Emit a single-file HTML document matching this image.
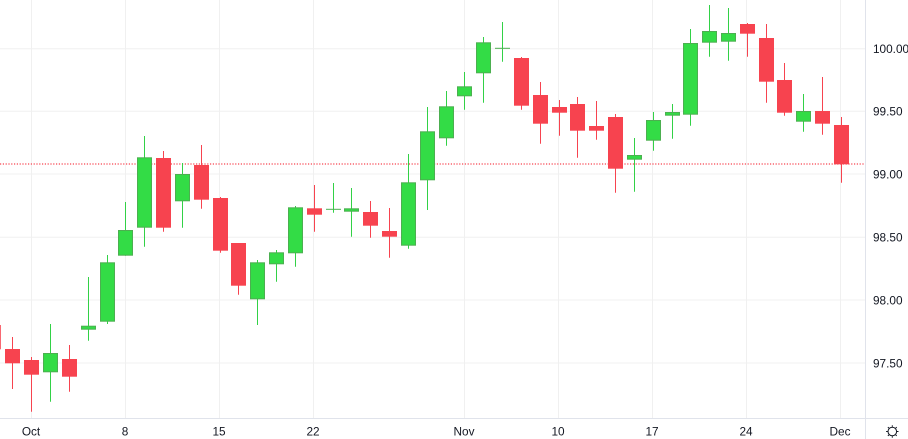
<!DOCTYPE html>
<html><head><meta charset="utf-8"><style>
html,body{margin:0;padding:0;background:#fff;}
svg{display:block;}
text{font-family:"Liberation Sans",sans-serif;fill:#131722;}
</style></head><body>
<svg width="908" height="439" viewBox="0 0 908 439" xmlns="http://www.w3.org/2000/svg">
<rect width="908" height="439" fill="#fff"/>
<g stroke="#f0f0f0" stroke-width="1">
<line x1="0" y1="48.8" x2="865" y2="48.8"/>
<line x1="0" y1="111.3" x2="865" y2="111.3"/>
<line x1="0" y1="174" x2="865" y2="174"/>
<line x1="0" y1="237.3" x2="865" y2="237.3"/>
<line x1="0" y1="300" x2="865" y2="300"/>
<line x1="0" y1="363" x2="865" y2="363"/>
<line x1="31.5" y1="0" x2="31.5" y2="418"/>
<line x1="125.5" y1="0" x2="125.5" y2="418"/>
<line x1="219.5" y1="0" x2="219.5" y2="418"/>
<line x1="313.5" y1="0" x2="313.5" y2="418"/>
<line x1="464.5" y1="0" x2="464.5" y2="418"/>
<line x1="558.5" y1="0" x2="558.5" y2="418"/>
<line x1="652.5" y1="0" x2="652.5" y2="418"/>
<line x1="746.5" y1="0" x2="746.5" y2="418"/>
<line x1="840.5" y1="0" x2="840.5" y2="418"/>
</g>
<line x1="0" y1="164" x2="865" y2="164" stroke="#f7434f" stroke-width="1.2" stroke-dasharray="1.2 1.6"/>
<g id="candles"></g>
<line x1="0" y1="418.5" x2="908" y2="418.5" stroke="#e0e3eb" stroke-width="1"/>
<line x1="865.5" y1="0" x2="865.5" y2="439" stroke="#e0e3eb" stroke-width="1"/>
<g font-size="11.8">
<text x="873" y="53">100.00</text>
<text x="873" y="115.5">99.50</text>
<text x="873" y="178.3">99.00</text>
<text x="873" y="241.6">98.50</text>
<text x="873" y="304.3">98.00</text>
<text x="873" y="367.3">97.50</text>
</g>
<g font-size="11.8" text-anchor="middle">
<text x="31" y="435.5">Oct</text>
<text x="125" y="435.5">8</text>
<text x="219" y="435.5">15</text>
<text x="313" y="435.5">22</text>
<text x="464" y="435.5">Nov</text>
<text x="558" y="435.5">10</text>
<text x="652" y="435.5">17</text>
<text x="746" y="435.5">24</text>
<text x="840" y="435.5">Dec</text>
</g>
<g stroke="#131722" stroke-width="1" fill="none">
<circle cx="892.3" cy="431.5" r="4.3"/>
<line x1="892.3" y1="425.3" x2="892.3" y2="426.8"/>
<line x1="892.3" y1="436.2" x2="892.3" y2="437.7"/>
<line x1="886.1" y1="431.5" x2="887.6" y2="431.5"/>
<line x1="897" y1="431.5" x2="898.5" y2="431.5"/>
<line x1="887.9" y1="427.1" x2="888.9" y2="428.1"/>
<line x1="895.7" y1="434.9" x2="896.7" y2="435.9"/>
<line x1="896.7" y1="427.1" x2="895.7" y2="428.1"/>
<line x1="888.9" y1="434.9" x2="887.9" y2="435.9"/>
</g>
<g>
<!-- candles -->
<rect x="-13.2" y="325" width="14" height="24.3" fill="#f7434f"/>
<line x1="-6.2" y1="318" x2="-6.2" y2="355" stroke="#f7434f"/>
</g>
<g id="c"></g>
<script>
var d=[
[-1,'r',349,363.3,337,389],
[0,'r',360,374.7,357,411.7],
[1,'g',353,372.3,324,401.7],
[2,'r',359,376.7,345,391.7],
[3,'g',325.7,329.7,277,340.7],
[4,'g',262.3,321.7,255,324],
[5,'g',230,255.7,202,255.7],
[6,'g',157.3,227.7,136,246.7],
[7,'r',158,227.7,151,231.7],
[8,'g',174,201.3,163,227.7],
[9,'r',165,199.7,145,208.7],
[10,'r',198,250.7,197,252.7],
[11,'r',243,285.7,243,294.7],
[12,'g',262.3,299.3,260,325],
[13,'g',252.3,264.3,250,281.7],
[14,'g',207.3,253.3,206,266.7],
[15,'r',208.3,214.7,185,231.7],
[16,'d',209.3,209.3,183,212.7],
[17,'g',208.3,211.7,188,236.7],
[18,'r',212,225.7,201,237.7],
[19,'r',231,236.7,208,257.7],
[20,'g',182.3,245.7,154,248.7],
[21,'g',131.3,180.3,107,210],
[22,'g',106.3,138.3,91,145.7],
[23,'g',86.3,96.3,72,109.7],
[24,'g',42.3,73.3,37,102.7],
[25,'d',48.3,48.3,22,61.7],
[26,'r',58,105.7,57,109.7],
[27,'r',95,123.7,82,143.7],
[28,'r',107,112.7,100,135.7],
[29,'r',104,130.7,97,157.7],
[30,'r',126,130.7,101,139.7],
[31,'r',117,168.7,114,192.7],
[32,'g',155,159.7,138,191.7],
[33,'g',120,140.7,112,150.7],
[34,'g',112,115.7,104,138.7],
[35,'g',43,114.7,29,125.7],
[36,'g',31,42.7,5,56.7],
[37,'g',33,41.7,8,60.7],
[38,'r',24,33.7,23,56.7],
[39,'r',38,81.7,24,102.7],
[40,'r',80,112.7,63,115.7],
[41,'g',111,121.7,94,131.7],
[42,'r',111,123.7,77,134.7],
[43,'r',125,164.3,117,182.7]
];
var ns='http://www.w3.org/2000/svg',g=document.getElementById('c');
function el(t,a){var e=document.createElementNS(ns,t);for(var k in a)e.setAttribute(k,a[k]);g.appendChild(e);}
d.forEach(function(c){
 var x=31.3+c[0]*18.83, xc=Math.round(x)+0.5;
 var col=c[1]=='r'?'#f7434f':'#32d146';
 el('line',{x1:xc,x2:xc,y1:c[4],y2:c[5],stroke:col,'stroke-width':1});
 var bx=Math.round(x)-7;
 if(c[1]=='r'){
  el('rect',{x:bx,y:c[2],width:15,height:Math.max(1,c[3]-c[2]),fill:'#f7434f'});
 } else if(c[1]=='g'){
  el('rect',{x:bx+0.5,y:c[2]+0.5,width:14,height:Math.max(1,c[3]-c[2]-1),fill:'#33dc46',stroke:'#4caf50','stroke-width':1});
 } else {
  el('line',{x1:bx,x2:bx+15,y1:c[2],y2:c[2],stroke:'#4caf50','stroke-width':1});
 }
});
</script>
</svg>
</body></html>
